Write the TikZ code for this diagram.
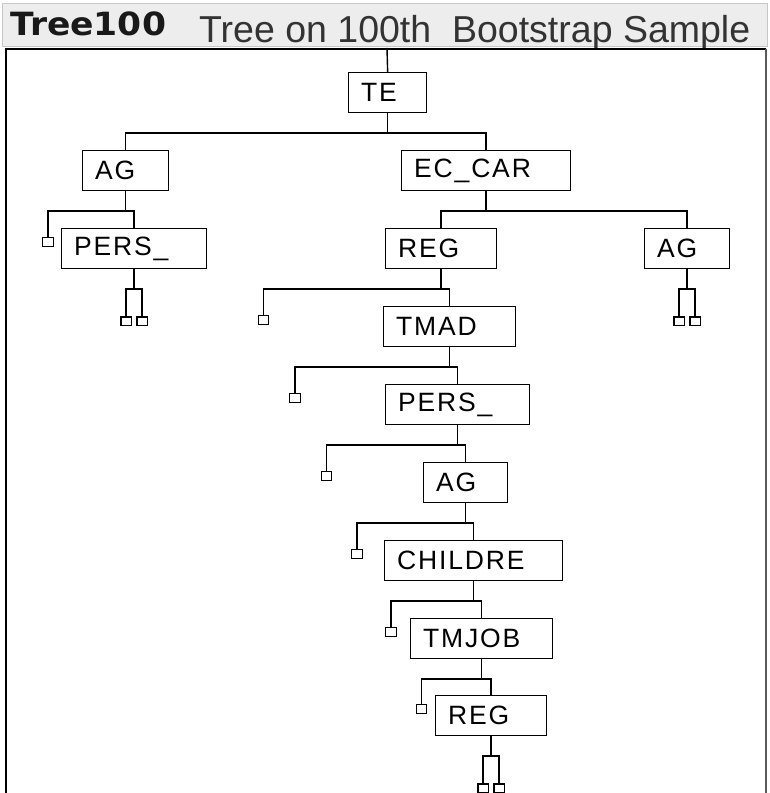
\documentclass[tikz,border=0pt]{standalone}
\usepackage{fontspec}
\setmainfont{Liberation Sans}
\newfontfamily\nodefont[LetterSpace=7]{Liberation Sans}
\newfontfamily\headfont{DejaVu Sans}
\usetikzlibrary{calc}
\begin{document}
\begin{tikzpicture}[x=1pt,y=-1pt,
  line cap=rect,
  nbox/.style={draw, line width=1.3pt, anchor=north west, minimum height=40pt,
    inner xsep=12.5pt, inner ysep=0pt, align=left,
    font=\nodefont\fontsize{26.5}{30}\selectfont},
  leaf/.style={draw, line width=1.2pt, anchor=north, minimum width=10.5pt,
    minimum height=8.5pt, inner sep=0pt},
  edge/.style={line width=1.4pt}]
\useasboundingbox (0,0) rectangle (769,793);
\fill[white] (0,0) rectangle (769,793);
% title band
\draw[fill=black!7, draw=black!22, line width=1pt] (2,3) rectangle (767.5,46.5);
\node[anchor=base west, inner sep=0pt, text=black!90, xscale=1.08,
  font=\headfont\bfseries\fontsize{32}{36}\selectfont] (hdr) at (10,35) {Tree100};
\node[anchor=base west, inner sep=0pt, text=black!80,
  font=\fontsize{37.5}{42}\selectfont] (sub) at (199,42) {Tree on 100th\ \ Bootstrap Sample};
% frame
\draw[line width=2pt, line cap=butt] (6,793) -- (6,48.5) -- (766,48.5);
\draw[line width=1.6pt, black!65, line cap=butt] (766,48.5) -- (766,793);
\coordinate (root) at (387,48.5);
% split nodes
\node[nbox, text width=53pt]  (te)   at (348,72)  {TE};
\node[nbox, text width=61pt]  (ag1)  at (82,150)  {AG};
\node[nbox, text width=144pt] (ec)   at (401,150) {EC\_CAR};
\node[nbox, text width=120pt] (pe1)  at (61,228)  {PERS\_};
\node[nbox, text width=86pt]  (re1)  at (385,228) {REG};
\node[nbox, text width=60pt]  (ag2)  at (644,228) {AG};
\node[nbox, text width=107pt] (tm)   at (383,306) {TMAD};
\node[nbox, text width=119pt] (pe2)  at (385,384) {PERS\_};
\node[nbox, text width=59pt]  (ag3)  at (423,462) {AG};
\node[nbox, text width=153pt] (ch)   at (384,540) {CHILDRE};
\node[nbox, text width=117pt] (tj)   at (410,618) {TMJOB};
\node[nbox, text width=86pt]  (re2)  at (435,695) {REG};
% terminal leaves
\node[leaf] (lf1) at (48,237)    {};
\node[leaf] (lf2) at (263.5,315) {};
\node[leaf] (lf3) at (295,393)   {};
\node[leaf] (lf4) at (326.5,471) {};
\node[leaf] (lf5) at (357,549)   {};
\node[leaf] (lf6) at (391,627)   {};
\node[leaf] (lf7) at (421.5,704) {};
\node[leaf] (lp1a) at ($(pe1.south)+(-8,47)$) {};
\node[leaf] (lp1b) at ($(pe1.south)+(8,47)$)  {};
\node[leaf] (lp2a) at ($(ag2.south)+(-8,47)$) {};
\node[leaf] (lp2b) at ($(ag2.south)+(8,47)$)  {};
\node[leaf] (lp3a) at ($(re2.south)+(-8,47)$) {};
\node[leaf] (lp3b) at ($(re2.south)+(8,47)$)  {};
% connectors
\begin{scope}[edge]
\draw (root) -- (te.north);
\draw (te.south) -- ++(0,19.5) coordinate (j0);
\draw (j0) -| (ag1.north);  \draw (j0) -| (ec.north);
\draw (ag1.south) -- ++(0,19.5) coordinate (j1);
\draw (j1) -| (lf1.north);  \draw (j1) -| (pe1.north);
\draw (pe1.south) -- ++(0,19.5) coordinate (j2);
\draw (j2) -| (lp1a.north); \draw (j2) -| (lp1b.north);
\draw (ec.south) -- ++(0,19.5) coordinate (j3);
\draw (j3) -| (re1.north);  \draw (j3) -| (ag2.north);
\draw (ag2.south) -- ++(0,19.5) coordinate (j4);
\draw (j4) -| (lp2a.north); \draw (j4) -| (lp2b.north);
\draw (re1.south) -- ++(0,19.5) coordinate (j5);
\draw (j5) -| (lf2.north);  \draw (j5) -| (tm.north);
\draw (tm.south) -- ++(0,19.5) coordinate (j6);
\draw (j6) -| (lf3.north);  \draw (j6) -| (pe2.north);
\draw (pe2.south) -- ++(0,19.5) coordinate (j7);
\draw (j7) -| (lf4.north);  \draw (j7) -| (ag3.north);
\draw (ag3.south) -- ++(0,19.5) coordinate (j8);
\draw (j8) -| (lf5.north);  \draw (j8) -| (ch.north);
\draw (ch.south) -- ++(0,19.5) coordinate (j9);
\draw (j9) -| (lf6.north);  \draw (j9) -| (tj.north);
\draw (tj.south) -- ++(0,19.5) coordinate (j10);
\draw (j10) -| (lf7.north); \draw (j10) -| (re2.north);
\draw (re2.south) -- ++(0,19.5) coordinate (j11);
\draw (j11) -| (lp3a.north); \draw (j11) -| (lp3b.north);
\end{scope}
\end{tikzpicture}
\end{document}
